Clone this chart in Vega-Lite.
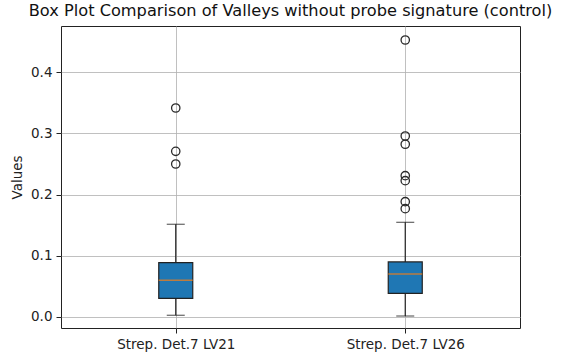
{
  "$schema": "https://vega.github.io/schema/vega-lite/v6.json",
  "autosize": {"type": "none"},
  "padding": {"left": 61, "top": 26, "right": 41, "bottom": 30},
  "width": 459,
  "height": 302,
  "background": "white",
  "title": {
    "text": "Box Plot Comparison of Valleys without probe signature (control)",
    "font": "DejaVu Sans",
    "fontSize": 16.2,
    "fontWeight": "normal",
    "color": "#111",
    "anchor": "middle",
    "offset": 7
  },
  "config": {
    "view": {"stroke": "#222", "strokeWidth": 1},
    "axis": {
      "labelFont": "DejaVu Sans",
      "titleFont": "DejaVu Sans",
      "labelFontSize": 13.5,
      "titleFontSize": 13.5,
      "titleFontWeight": "normal",
      "labelColor": "#222",
      "titleColor": "#222",
      "tickColor": "#222",
      "tickSize": 5,
      "labelPadding": 4,
      "domain": false,
      "gridColor": "#b0b0b0",
      "gridWidth": 1,
      "gridOpacity": 0.8
    }
  },
  "datasets": {
    "stats": [
      {"group": "Strep. Det.7 LV21", "lower": 0.0028, "q1": 0.0305, "median": 0.060, "q3": 0.0888, "upper": 0.1515},
      {"group": "Strep. Det.7 LV26", "lower": 0.0016, "q1": 0.0387, "median": 0.0703, "q3": 0.0899, "upper": 0.1547}
    ],
    "outliers": [
      {"group": "Strep. Det.7 LV21", "value": 0.3415},
      {"group": "Strep. Det.7 LV21", "value": 0.2707},
      {"group": "Strep. Det.7 LV21", "value": 0.2500},
      {"group": "Strep. Det.7 LV26", "value": 0.4526},
      {"group": "Strep. Det.7 LV26", "value": 0.2958},
      {"group": "Strep. Det.7 LV26", "value": 0.2822},
      {"group": "Strep. Det.7 LV26", "value": 0.2309},
      {"group": "Strep. Det.7 LV26", "value": 0.2227},
      {"group": "Strep. Det.7 LV26", "value": 0.1884},
      {"group": "Strep. Det.7 LV26", "value": 0.1770}
    ]
  },
  "encoding": {
    "x": {
      "field": "group",
      "type": "nominal",
      "scale": {"type": "point", "padding": 0.5},
      "axis": {"title": null, "labelAngle": 0, "grid": true}
    }
  },
  "layer": [
    {
      "data": {"name": "stats"},
      "mark": {"type": "rule", "color": "#222", "strokeWidth": 1.2},
      "encoding": {
        "y": {
          "field": "lower",
          "type": "quantitative",
          "scale": {"domain": [-0.018, 0.4755], "nice": false, "zero": false},
          "axis": {"title": "Values", "values": [0, 0.1, 0.2, 0.3, 0.4], "format": ".1f", "grid": true, "titlePadding": 6}
        },
        "y2": {"field": "upper"}
      }
    },
    {
      "data": {"name": "stats"},
      "mark": {"type": "bar", "size": 34, "color": "#1f77b4", "stroke": "#222", "strokeWidth": 1.2},
      "encoding": {
        "y": {"field": "q1", "type": "quantitative"},
        "y2": {"field": "q3"}
      }
    },
    {
      "data": {"name": "stats"},
      "mark": {"type": "tick", "size": 34, "thickness": 1.5, "color": "#ff7f0e"},
      "encoding": {"y": {"field": "median", "type": "quantitative"}}
    },
    {
      "data": {"name": "stats"},
      "mark": {"type": "tick", "size": 18, "thickness": 1.2, "color": "#222"},
      "encoding": {"y": {"field": "upper", "type": "quantitative"}}
    },
    {
      "data": {"name": "stats"},
      "mark": {"type": "tick", "size": 18, "thickness": 1.2, "color": "#222"},
      "encoding": {"y": {"field": "lower", "type": "quantitative"}}
    },
    {
      "data": {"name": "outliers"},
      "mark": {"type": "point", "shape": "circle", "filled": false, "opacity": 1, "size": 70, "stroke": "#2a2a2a", "strokeWidth": 1.3},
      "encoding": {"y": {"field": "value", "type": "quantitative"}}
    }
  ]
}
